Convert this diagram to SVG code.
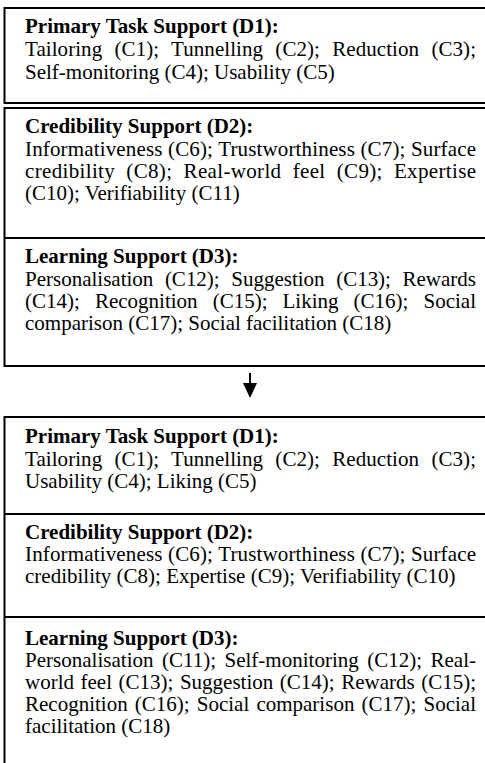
<svg xmlns="http://www.w3.org/2000/svg" width="485" height="763" viewBox="0 0 485 763">
  <style>
    .frame { fill: #fff; stroke: #000; stroke-width: 2; }
    .rule { stroke: #000; stroke-width: 2; }
    .t { font-family: "Liberation Serif", "Times New Roman", serif; font-size: 21px; fill: #000; }
    .h { font-weight: bold; }
  </style>
  <defs>
    <!-- filled arrowhead drawn along +x so orient="auto" points it down the shaft -->
    <marker id="head" viewBox="0 0 15 14" refX="1" refY="7" markerWidth="15" markerHeight="14" markerUnits="userSpaceOnUse" orient="auto">
      <path d="M0,0 L15,7 L0,14 Z" fill="#000"/>
    </marker>
  </defs>
  <rect width="485" height="763" fill="#fff"/>

  <!-- original model: primary task support -->
  <g id="old-d1">
    <rect class="frame" x="4.5" y="8" width="495" height="95"/>
    <text class="t h" x="25" y="33">Primary Task Support (D1):</text>
    <text class="t" x="25" y="56" word-spacing="7" textLength="451" lengthAdjust="spacing">Tailoring (C1); Tunnelling (C2); Reduction (C3);</text>
    <text class="t" x="25" y="79">Self-monitoring (C4); Usability (C5)</text>
  </g>

  <!-- original model: credibility and learning support -->
  <g id="old-d2-d3">
    <rect class="frame" x="4.5" y="108" width="495" height="258"/>
    <text class="t h" x="25" y="133">Credibility Support (D2):</text>
    <text class="t" x="25" y="156" textLength="451" lengthAdjust="spacing">Informativeness (C6); Trustworthiness (C7); Surface</text>
    <text class="t" x="25" y="178" word-spacing="5.6" textLength="451" lengthAdjust="spacing">credibility (C8); Real-world feel (C9); Expertise</text>
    <text class="t" x="25" y="200">(C10); Verifiability (C11)</text>
    <line class="rule" x1="4.5" y1="238" x2="485" y2="238"/>
    <text class="t h" x="25" y="263">Learning Support (D3):</text>
    <text class="t" x="25" y="286" word-spacing="6.3" textLength="451" lengthAdjust="spacing">Personalisation (C12); Suggestion (C13); Rewards</text>
    <text class="t" x="25" y="308" word-spacing="9.8" textLength="451" lengthAdjust="spacing">(C14); Recognition (C15); Liking (C16); Social</text>
    <text class="t" x="25" y="330">comparison (C17); Social facilitation (C18)</text>
  </g>

  <g id="connectors">
    <line class="rule" x1="250" y1="373" x2="250" y2="384" marker-end="url(#head)"/>
  </g>

  <!-- revised model -->
  <g id="new-model">
    <rect class="frame" x="4.5" y="417" width="495" height="360"/>
    <text class="t h" x="25" y="443">Primary Task Support (D1):</text>
    <text class="t" x="25" y="466" word-spacing="7" textLength="451" lengthAdjust="spacing">Tailoring (C1); Tunnelling (C2); Reduction (C3);</text>
    <text class="t" x="25" y="488">Usability (C4); Liking (C5)</text>
    <line class="rule" x1="4.5" y1="514" x2="485" y2="514"/>
    <text class="t h" x="25" y="539">Credibility Support (D2):</text>
    <text class="t" x="25" y="561" textLength="451" lengthAdjust="spacing">Informativeness (C6); Trustworthiness (C7); Surface</text>
    <text class="t" x="25" y="583">credibility (C8); Expertise (C9); Verifiability (C10)</text>
    <line class="rule" x1="4.5" y1="617" x2="485" y2="617"/>
    <text class="t h" x="25" y="645">Learning Support (D3):</text>
    <text class="t" x="25" y="667" word-spacing="3.1" textLength="451" lengthAdjust="spacing">Personalisation (C11); Self-monitoring (C12); Real-</text>
    <text class="t" x="25" y="689" word-spacing="1.3" textLength="451" lengthAdjust="spacing">world feel (C13); Suggestion (C14); Rewards (C15);</text>
    <text class="t" x="25" y="711" word-spacing="1.9" textLength="451" lengthAdjust="spacing">Recognition (C16); Social comparison (C17); Social</text>
    <text class="t" x="25" y="733">facilitation (C18)</text>
  </g>
</svg>
